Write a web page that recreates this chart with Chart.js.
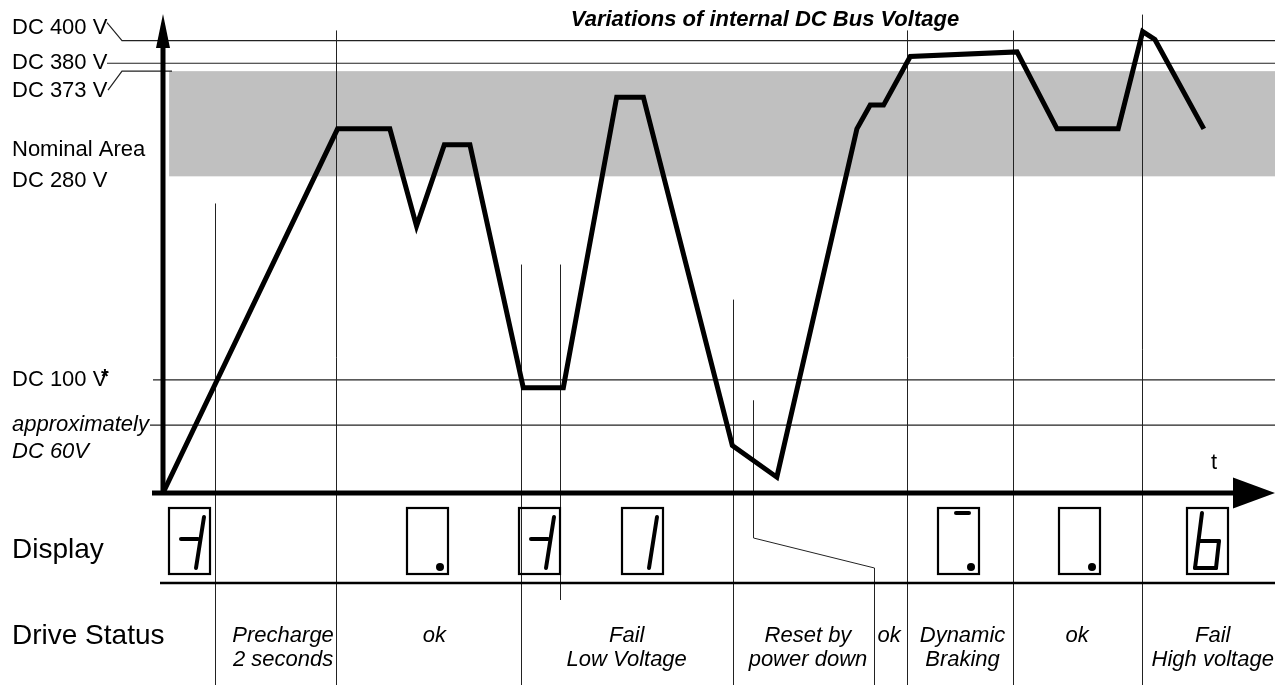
<!DOCTYPE html>
<html>
<head>
<meta charset="utf-8">
<script src="https://cdn.jsdelivr.net/npm/chart.js@4/dist/chart.umd.min.js"></script>
<style>
  body { margin: 0; background: #fff; }
  #wrap { width: 1284px; height: 685px; }
</style>
</head>
<body>
<div id="wrap"><canvas id="busVoltage" width="1284" height="685"></canvas></div>
<script>
// bus voltage over time (arbitrary time units, volts)
const times = [0, 15.7, 20.4, 22.8, 25.3, 27.6, 32.4, 36.0, 40.8, 43.2, 51.2, 55.2, 62.4, 63.6, 64.8, 67.2, 76.8, 80.4, 85.9, 88.1, 89.2, 93.6];
const volts = [0, 322, 322, 236, 308, 308, 93, 93, 350, 350, 42, 14, 322, 343, 343, 386, 390, 322, 322, 408, 401, 322];

// reference levels
const nominalLow = 280;
const nominalHigh = 373;
const levels = [400, 380, 100, 60];

// phase boundaries on the time axis
const phaseEdges = [4.7, 15.6, 32.2, 35.7, 51.3, 66.9, 76.4, 88.0];
const resetEdge = [53.1, 63.9];

// display readout and drive status per phase
const displayAt = [2.4, 23.8, 33.9, 43.1, 71.5, 82.4, 93.9];
const displayCodes = ['dash-one', 'point', 'dash-one', 'one', 'bar-point', 'point', 'b'];
const statusAt = [10.8, 24.4, 41.7, 58.0, 65.3, 71.9, 82.2, 94.4];
const statusText = [
    ['Precharge', '2 seconds'], ['ok'], ['Fail', 'Low Voltage'], ['Reset by', 'power down'],
    ['ok'], ['Dynamic', 'Braking'], ['ok'], ['Fail', 'High voltage']
];

const FONT = '"Liberation Sans", Arial, sans-serif';

// seven segment pieces inside a 41x66 box
const SEGMENTS = {
    a: [[18, 5], [31, 5]],
    bc: [[35, 9], [27, 60]],
    g: [[12, 31], [29, 31]],
    ef: [[15, 5], [8, 60]],
    gb: [[12, 33], [32, 33]],
    c: [[32, 33], [29, 60]],
    d: [[8, 60], [29, 60]]
};
const GLYPHS = {
    'dash-one': { segs: ['g', 'bc'] },
    'one': { segs: ['bc'] },
    'point': { segs: [], dot: true },
    'bar-point': { segs: ['a'], dot: true },
    'b': { segs: ['ef', 'gb', 'c', 'd'] }
};

function line(ctx, pts, width, color) {
    ctx.beginPath();
    ctx.moveTo(pts[0][0], pts[0][1]);
    for (let i = 1; i < pts.length; i++) ctx.lineTo(pts[i][0], pts[i][1]);
    ctx.lineWidth = width;
    ctx.strokeStyle = color;
    ctx.stroke();
}

const diagram = {
    id: 'diagram',
    beforeDatasetsDraw(chart) {
        const { ctx, scales: { x, y }, chartArea } = chart;
        const right = chartArea.right;
        ctx.save();

        // nominal band
        const bTop = y.getPixelForValue(nominalHigh);
        const bBot = y.getPixelForValue(nominalLow);
        ctx.fillStyle = '#c0c0c0';
        ctx.fillRect(x.getPixelForValue(0.55), bTop, right - x.getPixelForValue(0.55), bBot - bTop);

        // level lines with leaders
        const y400 = y.getPixelForValue(levels[0]);
        const y380 = y.getPixelForValue(levels[1]);
        const y100 = y.getPixelForValue(levels[2]);
        const y60 = y.getPixelForValue(levels[3]);
        line(ctx, [[107, y400 - 18], [122, y400], [right, y400]], 1.2, '#222');
        line(ctx, [[107, y380], [right, y380]], 1.2, '#222');
        line(ctx, [[108, bTop + 19], [122, bTop], [172, bTop]], 1.2, '#222');
        line(ctx, [[153, y100], [right, y100]], 1.2, '#222');
        line(ctx, [[150, y60], [right, y60]], 1.2, '#222');

        // phase boundaries
        const tops = [256, 409, 202, 202, 171, 409, 409, 423];
        phaseEdges.forEach((t, i) => {
            const px = Math.round(x.getPixelForValue(t)) + 0.5;
            const bottom = i === 3 ? 600 : 685;
            line(ctx, [[px, y.getPixelForValue(tops[i])], [px, bottom]], 1, '#222');
        });
        const r0 = Math.round(x.getPixelForValue(resetEdge[0])) + 0.5;
        const r1 = Math.round(x.getPixelForValue(resetEdge[1])) + 0.5;
        line(ctx, [[r0, y.getPixelForValue(82)], [r0, 538], [r1, 568], [r1, 685]], 1, '#222');

        ctx.restore();
    },
    afterDatasetsDraw(chart) {
        const { ctx, scales: { x, y }, chartArea } = chart;
        const x0 = x.getPixelForValue(0);
        const y0 = y.getPixelForValue(0);
        const right = chartArea.right;
        ctx.save();

        // axes with arrow heads
        ctx.fillStyle = '#000';
        line(ctx, [[x0, y0 + 2], [x0, chartArea.top + 28]], 5, '#000');
        ctx.beginPath();
        ctx.moveTo(x0, chartArea.top - 4);
        ctx.lineTo(x0 + 7, chartArea.top + 30);
        ctx.lineTo(x0 - 7, chartArea.top + 30);
        ctx.closePath();
        ctx.fill();
        line(ctx, [[152, y0], [right - 40, y0]], 5, '#000');
        ctx.beginPath();
        ctx.moveTo(right, y0);
        ctx.lineTo(right - 42, y0 - 15.5);
        ctx.lineTo(right - 42, y0 + 15.5);
        ctx.closePath();
        ctx.fill();

        // labels on the left
        const bTop = y.getPixelForValue(nominalHigh);
        const bBot = y.getPixelForValue(nominalLow);
        ctx.textBaseline = 'middle';
        ctx.textAlign = 'left';
        ctx.font = '22px ' + FONT;
        ctx.fillText('DC 400 V', 12, y.getPixelForValue(levels[0]) - 13);
        ctx.fillText('DC 380 V', 12, y.getPixelForValue(levels[1]));
        ctx.fillText('DC 373 V', 12, bTop + 20);
        ctx.fillText('Nominal Area', 12, bTop + 79);
        ctx.fillText('DC 280 V', 12, bBot + 5);
        ctx.fillText('DC 100 V', 12, y.getPixelForValue(levels[2]));
        ctx.font = 'bold 20px ' + FONT;
        ctx.fillText('*', 101, y.getPixelForValue(levels[2]) - 2);
        ctx.font = 'italic 22px ' + FONT;
        ctx.fillText('approximately', 12, y.getPixelForValue(levels[3]));
        ctx.fillText('DC 60V', 12, y.getPixelForValue(levels[3]) + 27);

        // title and time label
        ctx.font = 'bold italic 22px ' + FONT;
        ctx.textAlign = 'center';
        ctx.fillText('Variations of internal DC Bus Voltage', 765, 20);
        ctx.font = '22px ' + FONT;
        ctx.fillText('t', 1214, 463);

        // display row
        ctx.textAlign = 'left';
        ctx.font = '28px ' + FONT;
        ctx.fillText('Display', 12, 550);
        ctx.fillText('Drive Status', 12, 636);
        line(ctx, [[160, 583], [right, 583]], 2.5, '#000');

        ctx.lineCap = 'round';
        displayAt.forEach((t, i) => {
            const left = Math.round(x.getPixelForValue(t) - 20.5);
            const top = 508;
            ctx.lineCap = 'butt';
            ctx.lineWidth = 2.2;
            ctx.strokeStyle = '#000';
            ctx.strokeRect(left, top, 41, 66);
            const glyph = GLYPHS[displayCodes[i]];
            ctx.lineCap = 'round';
            glyph.segs.forEach(s => {
                const p = SEGMENTS[s];
                line(ctx, [[left + p[0][0], top + p[0][1]], [left + p[1][0], top + p[1][1]]], 4, '#000');
            });
            if (glyph.dot) {
                ctx.beginPath();
                ctx.arc(left + 33, top + 59, 4, 0, Math.PI * 2);
                ctx.fill();
            }
        });

        // drive status texts
        ctx.textAlign = 'center';
        ctx.font = 'italic 22px ' + FONT;
        statusAt.forEach((t, i) => {
            statusText[i].forEach((txt, k) => {
                ctx.fillText(txt, x.getPixelForValue(t), 636 + k * 24);
            });
        });

        ctx.restore();
    }
};

new Chart(document.getElementById('busVoltage').getContext('2d'), {
    type: 'line',
    data: {
        datasets: [{
            data: times.map((t, i) => ({ x: t, y: volts[i] })),
            borderColor: '#000',
            borderWidth: 5,
            borderJoinStyle: 'miter',
            pointRadius: 0,
            tension: 0,
            fill: false,
            clip: false
        }]
    },
    options: {
        responsive: false,
        devicePixelRatio: 1,
        animation: false,
        layout: { padding: { left: 163, right: 9, top: 18, bottom: 192 } },
        plugins: { legend: { display: false }, tooltip: { enabled: false } },
        scales: {
            x: { type: 'linear', min: 0, max: 100, display: false },
            y: { type: 'linear', min: 0, max: 420, display: false }
        }
    },
    plugins: [diagram]
});
</script>
</body>
</html>
